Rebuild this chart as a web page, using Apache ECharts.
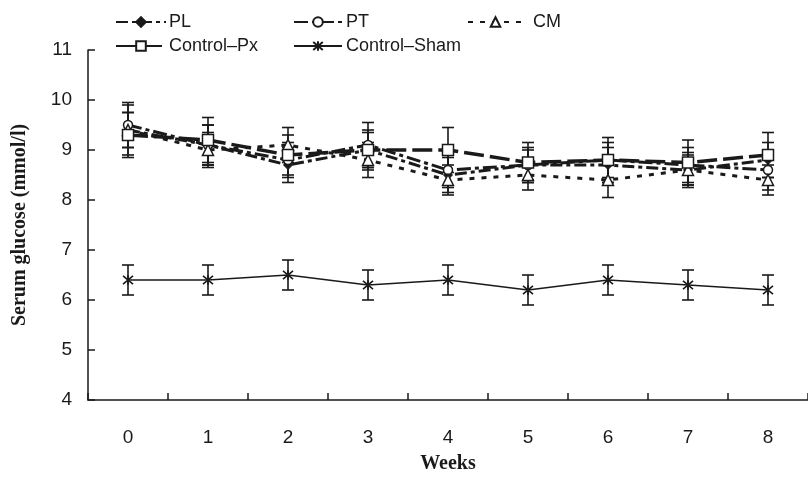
<!DOCTYPE html>
<html><head><meta charset="utf-8">
<script src="https://cdn.jsdelivr.net/npm/echarts@6/dist/echarts.min.js"></script>
<style>html,body{margin:0;padding:0;background:#fff}#c{width:808px;height:479px}</style>
</head><body><div id="c"></div>
<script>
var weeks = ['0','1','2','3','4','5','6','7','8'];
var yTicks = [4,5,6,7,8,9,10,11];
var PL = [9.4, 9.1, 8.7, 9.0, 8.5, 8.7, 8.7, 8.6, 8.8];
var PL_err = [0.35, 0.4, 0.35, 0.35, 0.35, 0.35, 0.35, 0.3, 0.35];
var PT = [9.5, 9.1, 8.8, 9.1, 8.6, 8.7, 8.8, 8.7, 8.6];
var PT_err = [0.45, 0.4, 0.35, 0.45, 0.35, 0.3, 0.35, 0.35, 0.4];
var CM = [9.4, 9.0, 9.1, 8.8, 8.4, 8.5, 8.4, 8.6, 8.4];
var CM_err = [0.5, 0.35, 0.35, 0.35, 0.3, 0.3, 0.35, 0.35, 0.3];
var PX = [9.3, 9.2, 8.9, 9.0, 9.0, 8.75, 8.8, 8.75, 8.9];
var PX_err = [0.45, 0.45, 0.4, 0.4, 0.45, 0.4, 0.45, 0.45, 0.45];
var SHAM = [6.4, 6.4, 6.5, 6.3, 6.4, 6.2, 6.4, 6.3, 6.2];
var SHAM_err = [0.3, 0.3, 0.3, 0.3, 0.3, 0.3, 0.3, 0.3, 0.3];

function errData(m, e){ return m.map(function(v,i){ return [i, v-e[i], v+e[i]]; }); }
function errSeries(m, e){
  return {
    type:'custom', silent:true, z:1,
    data: errData(m,e),
    renderItem: function(params, api){
      var lo = api.coord([api.value(0), api.value(1)]);
      var hi = api.coord([api.value(0), api.value(2)]);
      var w = 6;
      var st = {stroke:'#1a1a1a', lineWidth:1.6};
      return {type:'group', children:[
        {type:'line', shape:{x1:lo[0],y1:lo[1],x2:hi[0],y2:hi[1]}, style:st},
        {type:'line', shape:{x1:lo[0]-w,y1:lo[1],x2:lo[0]+w,y2:lo[1]}, style:st},
        {type:'line', shape:{x1:hi[0]-w,y1:hi[1],x2:hi[0]+w,y2:hi[1]}, style:st}
      ]};
    }
  };
}
var star = 'path://M0,0 L10,10 M10,0 L0,10 M5,-1 L5,11';
function lineS(name, data, lineStyle, symbol, size, itemStyle){
  return {name:name, type:'line', data:data, symbol:symbol, symbolSize:size, z:3,
    lineStyle:lineStyle, itemStyle:itemStyle, showAllSymbol:true};
}
var series = [
  errSeries(PL,PL_err), errSeries(PT,PT_err), errSeries(CM,CM_err), errSeries(PX,PX_err), errSeries(SHAM,SHAM_err),
  lineS('PL', PL, {color:'#1a1a1a', width:3, type:[12,4,4,4]}, 'diamond', 9, {color:'#1a1a1a', borderColor:'#1a1a1a', borderWidth:1}),
  lineS('PT', PT, {color:'#1a1a1a', width:3, type:[14,4,4,4]}, 'circle', 9, {color:'#fff', borderColor:'#1a1a1a', borderWidth:1.5}),
  lineS('CM', CM, {color:'#1a1a1a', width:3, type:[5,7]}, 'triangle', 11, {color:'#fff', borderColor:'#1a1a1a', borderWidth:1.5}),
  lineS('Control\u2013Px', PX, {color:'#1a1a1a', width:3.5, type:[20,6]}, 'rect', 11, {color:'#fff', borderColor:'#1a1a1a', borderWidth:1.5}),
  lineS('Control\u2013Sham', SHAM, {color:'#1a1a1a', width:1.6, type:'solid'}, star, 10, {color:'transparent', borderColor:'#1a1a1a', borderWidth:1.6})
];
function leg(name, left, top, w, pad){
  return {data:[name], left:left, top:top, itemWidth:w, itemHeight:12, itemGap:0,
    textStyle:{fontFamily:'Liberation Sans', fontSize:18, color:'#1a1a1a', padding:[0,0,0,pad]}, selectedMode:false};
}
var option = {
  animation:false,
  backgroundColor:'#fff',
  legend:[leg('PL',110,8,50,-2), leg('PT',288,8,48,-1), leg('CM',462,8,55,5),
          leg('Control\u2013Px',110,32,50,-2), leg('Control\u2013Sham',288,32,48,-1)],
  grid:{left:88, right:0, top:50, bottom:72, containLabel:false},
  xAxis:{type:'category', data:weeks, boundaryGap:true,
    name:'Weeks', nameLocation:'middle', nameGap:54,
    nameTextStyle:{fontFamily:'Liberation Serif', fontWeight:'bold', fontSize:20, color:'#1a1a1a'},
    axisLine:{show:true, lineStyle:{color:'#1a1a1a', width:1.5}},
    axisTick:{show:true, interval:0, inside:true, length:7, alignWithLabel:false, lineStyle:{color:'#1a1a1a', width:1.5}},
    axisLabel:{margin:28, fontFamily:'Liberation Sans', fontSize:19, color:'#1a1a1a'},
    splitLine:{show:false}},
  yAxis:{type:'value', min:yTicks[0], max:yTicks[yTicks.length-1], interval:1,
    name:'Serum glucose (mmol/l)', nameLocation:'middle', nameGap:58,
    nameTextStyle:{fontFamily:'Liberation Serif', fontWeight:'bold', fontSize:20, color:'#1a1a1a'},
    axisLine:{show:true, lineStyle:{color:'#1a1a1a', width:1.5}},
    axisTick:{show:true, inside:true, length:7, lineStyle:{color:'#1a1a1a', width:1.5}},
    axisLabel:{margin:16, fontFamily:'Liberation Sans', fontSize:19, color:'#1a1a1a'},
    splitLine:{show:false}},
  series:series
};
echarts.init(document.getElementById('c')).setOption(option);
</script></body></html>
